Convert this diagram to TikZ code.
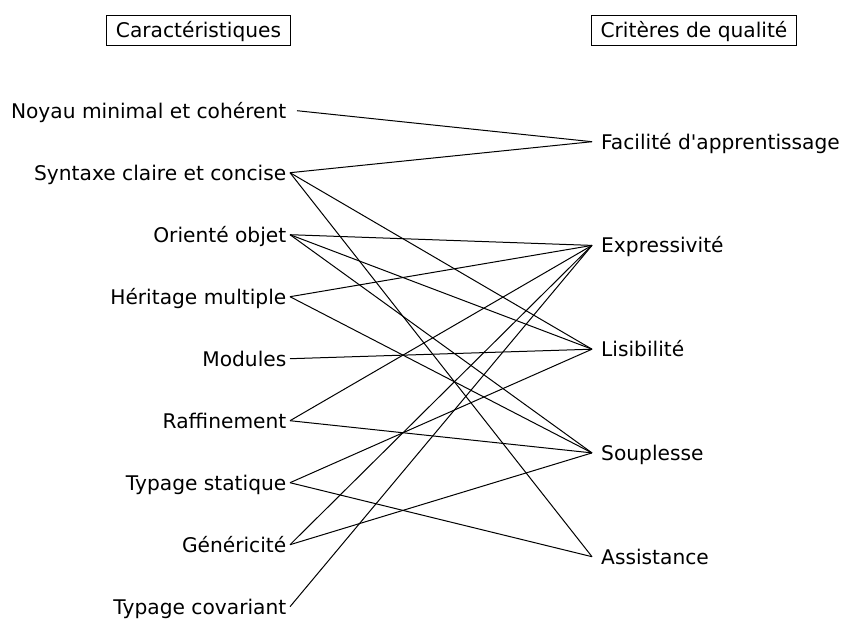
\documentclass[tikz,border=0pt]{standalone}
\usepackage{fontspec}
\setmainfont{DejaVu Sans}
\begin{document}
\begin{tikzpicture}[x=1pt,y=-1pt,
  every node/.style={font=\fontsize{20.2}{24}\selectfont, text height=14.7pt, text depth=0pt},
  feature/.style={anchor=east, inner xsep=3.5pt, inner ysep=0pt},
  criterion/.style={anchor=west, inner xsep=9pt, inner ysep=0pt},
  heading/.style={draw, line width=1pt, inner xsep=9pt, minimum height=29.5pt},
  link/.style={line width=1pt}]
\useasboundingbox (0,0) rectangle (844,619);

% column headings
\node[heading] (hfeat) at (198.5,30.5) {Caractéristiques};
\node[heading] (hcrit) at (694,30.5) {Critères de qualité};

% language characteristics (left column)
\node[feature, inner xsep=10.5pt] (noyau) at (297,110.7) {Noyau minimal et cohérent};
\node[feature] (syntaxe) at (290,172.7) {Syntaxe claire et concise};
\node[feature] (objet)   at (290,234.7) {Orienté objet};
\node[feature] (herit)   at (290,296.7) {Héritage multiple};
\node[feature] (modules) at (290,358.7) {Modules};
\node[feature] (raffin)  at (290,420.7) {Raffinement};
\node[feature] (tstat)   at (290,482.7) {Typage statique};
\node[feature] (gener)   at (290,544.7) {Généricité};
\node[feature] (tcov)    at (290,606.7) {Typage covariant};

% quality criteria (right column)
\node[criterion] (facil)  at (592,141.7) {Facilité d\textquotesingle apprentissage};
\node[criterion] (expr)   at (592,245.4) {Expressivité};
\node[criterion] (lisib)  at (592,349.2) {Lisibilité};
\node[criterion] (soupl)  at (592,452.9) {Souplesse};
\node[criterion] (assist) at (592,556.7) {Assistance};

% which characteristic supports which criterion
\foreach \a/\b in {noyau/facil, syntaxe/facil, syntaxe/lisib, syntaxe/assist,
                   objet/expr, objet/lisib, objet/soupl,
                   herit/expr, herit/soupl, modules/lisib,
                   raffin/expr, raffin/soupl, tstat/lisib, tstat/assist,
                   gener/expr, gener/soupl, tcov/expr}
  \draw[link] (\a.east) -- (\b.west);
\end{tikzpicture}
\end{document}
